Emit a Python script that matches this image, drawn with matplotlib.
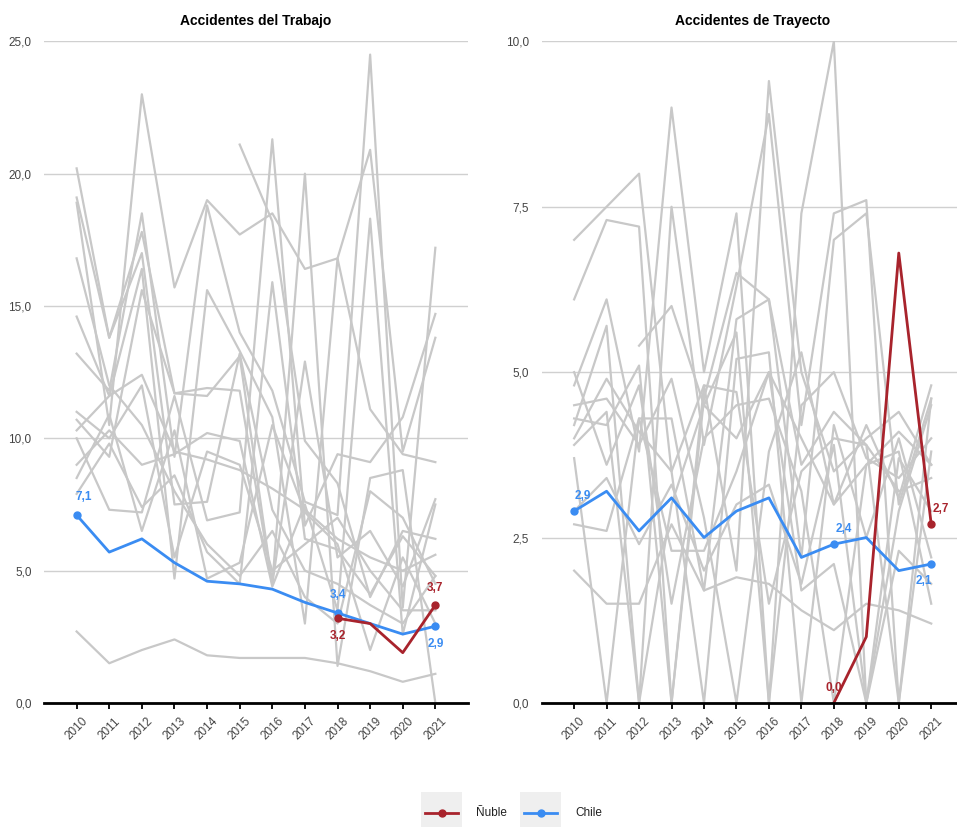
import numpy as np
import matplotlib
matplotlib.use("Agg")
import matplotlib.pyplot as plt
from matplotlib.patches import Rectangle
from matplotlib.lines import Line2D
from matplotlib.ticker import FuncFormatter

plt.rcParams['font.family'] = ['Liberation Sans', 'DejaVu Sans']

years = list(range(2010, 2022))

# Accidentes del Trabajo
chile_trabajo = [7.1, 5.7, 6.2, 5.3, 4.6, 4.5, 4.3, 3.8, 3.4, 3.0, 2.6, 2.9]
nuble_trabajo = [None] * 8 + [3.2, 3.0, 1.9, 3.7]
otros_trabajo = [
    [20.2, 13.8, 17.0, 7.5, 7.6, 13.2, 7.3, 5.0, 4.5, 3.7, 3.0, 4.8],
    [19.1, 13.8, 17.8, 11.7, 11.6, 13.1, 4.5, 12.9, 5.5, 6.5, 4.4, 7.7],
    [18.9, 10.5, 23.0, 15.7, 19.0, 17.7, 18.5, 16.4, 16.8, 11.1, 9.4, 9.1],
    [14.6, 11.6, 12.4, 9.5, 9.2, 8.8, 8.1, 7.3, 6.2, 5.5, 5.0, 5.6],
    [13.2, 11.8, 18.5, 9.3, 18.8, 14.0, 11.8, 7.6, 7.1, 24.5, 3.6, 17.2],
    [10.7, 9.3, 15.6, 11.7, 11.9, 11.8, 4.5, 20.0, 1.4, 8.5, 8.8, 0.0],
    [10.3, 11.6, 16.4, 4.7, 15.6, 13.3, 10.8, 3.0, 16.8, 20.9, 9.5, 13.8],
    [10.0, 7.3, 7.2, 11.6, 6.9, 7.2, 21.3, 6.7, 9.4, 9.1, 10.8, 14.7],
    [9.0, 10.3, 9.0, 9.4, 10.2, 9.9, 4.4, 7.5, 3.5, 18.3, 2.6, 7.5],
    [7.9, 9.8, 7.4, 8.6, 5.7, 4.5, 15.9, 6.2, 5.8, 4.1, 6.3, 4.8],
    [2.7, 1.5, 2.0, 2.4, 1.8, 1.7, 1.7, 1.7, 1.5, 1.2, 0.8, 1.1],
    [None, None, None, None, None, 21.1, 18.2, 9.9, 8.3, 4.0, 6.5, 6.2],
    [8.5, 10.9, 6.5, 10.3, 4.7, 5.3, 10.5, 7.2, 6.0, 2.0, 5.5, 3.0],
    [11.0, 10.0, 12.0, 5.5, 9.5, 9.0, 5.0, 6.0, 7.0, 5.0, 3.5, 3.5],
    [16.8, 12.0, 10.5, 8.0, 6.0, 4.8, 6.5, 4.0, 3.0, 8.0, 7.0, 4.5],
]

# Accidentes de Trayecto
chile_trayecto = [2.9, 3.2, 2.6, 3.1, 2.5, 2.9, 3.1, 2.2, 2.4, 2.5, 2.0, 2.1]
nuble_trayecto = [None] * 8 + [0.0, 1.0, 6.8, 2.7]
otros_trayecto = [
    [7.0, 7.5, 8.0, 3.5, 4.8, 2.0, 9.4, 5.0, 3.5, 4.0, 4.4, 3.6],
    [6.1, 7.3, 7.2, 0.0, 4.6, 6.5, 6.1, 2.2, 7.0, 7.4, 3.0, 4.6],
    [4.8, 6.1, 3.8, 9.0, 5.0, 7.4, 0.0, 7.4, 10.0, 0.0, 2.9, 4.5],
    [4.2, 5.7, 0.0, 7.5, 3.9, 6.3, 8.9, 4.2, 7.4, 7.6, 0.0, 3.8],
    [2.0, 1.5, 1.5, 2.7, 1.7, 1.9, 1.8, 1.4, 1.1, 1.5, 1.4, 1.2],
    [2.7, 2.6, 4.3, 2.3, 2.3, 3.5, 5.0, 1.7, 2.1, 0.0, 3.7, 2.9],
    [3.7, 0.0, 4.3, 4.3, 1.7, 5.8, 6.1, 3.6, 4.4, 3.9, 0.0, 4.6],
    [4.0, 4.9, 4.1, 3.5, 0.0, 5.2, 5.3, 0.0, 4.2, 2.5, 4.0, 2.2],
    [4.3, 4.2, 5.1, 0.0, 4.8, 4.7, 1.5, 3.5, 4.0, 3.9, 3.2, 3.4],
    [4.5, 4.6, 3.9, 4.9, 2.8, 0.0, 3.8, 5.3, 3.0, 4.2, 3.1, 4.8],
    [3.9, 4.4, 0.0, 3.0, 4.5, 5.6, 0.0, 4.5, 5.0, 3.7, 3.4, 4.0],
    [None, None, 5.4, 6.0, 4.5, 4.0, 5.0, 4.0, 3.0, 3.6, 3.8, 1.5],
    [2.9, 3.4, 2.4, 3.3, 2.0, 3.0, 3.3, 1.8, 3.9, 0.0, 2.3, 1.8],
    [5.0, 3.6, 4.8, 1.5, 4.0, 4.5, 4.6, 3.2, 0.0, 3.6, 4.1, 3.6],
]

GRIS = '#c8c8c8'
AZUL = '#3a8cf2'
ROJO = '#a8232c'


def to_arr(vals):
    return np.array([np.nan if v is None else v for v in vals], dtype=float)


def coma(v, pos=None):
    return '{:.1f}'.format(v).replace('.', ',')


def etiqueta(ax, x, y, color, dx, dy, ha):
    ax.annotate(coma(y), (x, y), xytext=(dx, dy), textcoords='offset points',
                ha=ha, va='center', color=color, fontsize=8.5, fontweight='bold',
                zorder=6)


def panel(ax, titulo, otros, chile, nuble, ymax, paso, labels_chile, labels_nuble):
    for serie in otros:
        ax.plot(years, to_arr(serie), color=GRIS, lw=1.6, zorder=2, clip_on=True)
    ax.plot(years, to_arr(chile), color=AZUL, lw=2, zorder=4)
    ax.plot(years, to_arr(nuble), color=ROJO, lw=2, zorder=4)

    for i, dx, dy, ha in labels_chile:
        ax.plot(years[i], chile[i], 'o', color=AZUL, ms=5, zorder=5)
        etiqueta(ax, years[i], chile[i], AZUL, dx, dy, ha)
    for i, dx, dy, ha, punto in labels_nuble:
        if punto:
            ax.plot(years[i], nuble[i], 'o', color=ROJO, ms=5, zorder=5)
        etiqueta(ax, years[i], nuble[i], ROJO, dx, dy, ha)

    ax.set_xlim(2009, 2022)
    ax.set_ylim(0, ymax)
    ax.set_yticks(np.arange(0, ymax + 0.01, paso))
    ax.yaxis.set_major_formatter(FuncFormatter(coma))
    ax.set_xticks(years)
    ax.set_xticklabels([str(y) for y in years], rotation=45, ha='center', va='top')
    ax.tick_params(axis='y', length=0, pad=9, labelsize=8.5, labelcolor='#444444')
    ax.tick_params(axis='x', length=4, width=1.3, pad=5, labelsize=8.5,
                   labelcolor='#444444', color='black')
    ax.grid(axis='y', color='#d0d0d0', lw=1)
    ax.set_axisbelow(True)
    for s in ['top', 'right', 'left']:
        ax.spines[s].set_visible(False)
    ax.spines['bottom'].set_linewidth(2)
    ax.spines['bottom'].set_zorder(7)
    ax.set_title(titulo, fontsize=10, fontweight='bold', pad=12)


fig = plt.figure(figsize=(9.57, 8.27), dpi=100)
ax1 = fig.add_axes([0.046, 0.15, 0.443, 0.8])
ax2 = fig.add_axes([0.566, 0.15, 0.441, 0.8])

panel(ax1, 'Accidentes del Trabajo', otros_trabajo, chile_trabajo, nuble_trabajo, 25, 5,
      [(0, 5, 13, 'center'), (8, 0, 13, 'center'), (11, 0, -13, 'center')],
      [(8, 0, -13, 'center', True), (11, 0, 12, 'center', True)])
panel(ax2, 'Accidentes de Trayecto', otros_trayecto, chile_trayecto, nuble_trayecto, 10, 2.5,
      [(0, 6, 11, 'center'), (8, 7, 11, 'center'), (11, -5, -12, 'center')],
      [(8, 0, 11, 'center', False), (11, 7, 11, 'center', True)])

# leyenda
leg = fig.add_axes([0, 0, 1, 0.05])
leg.set_xlim(0, 957)
leg.set_ylim(0, 41.35)
leg.axis('off')
for x0, color, texto in [(421, ROJO, 'Ñuble'), (520, AZUL, 'Chile')]:
    leg.add_patch(Rectangle((x0, 0), 41, 35, color='#efefef', lw=0))
    leg.add_line(Line2D([x0 + 4, x0 + 37], [14, 14], color=color, lw=2))
    leg.plot(x0 + 20.5, 14, 'o', color=color, ms=5)
    leg.text(x0 + 55, 14, texto, va='center', ha='left', fontsize=8.5, color='#222222')

fig.savefig('out.png', dpi=100)
